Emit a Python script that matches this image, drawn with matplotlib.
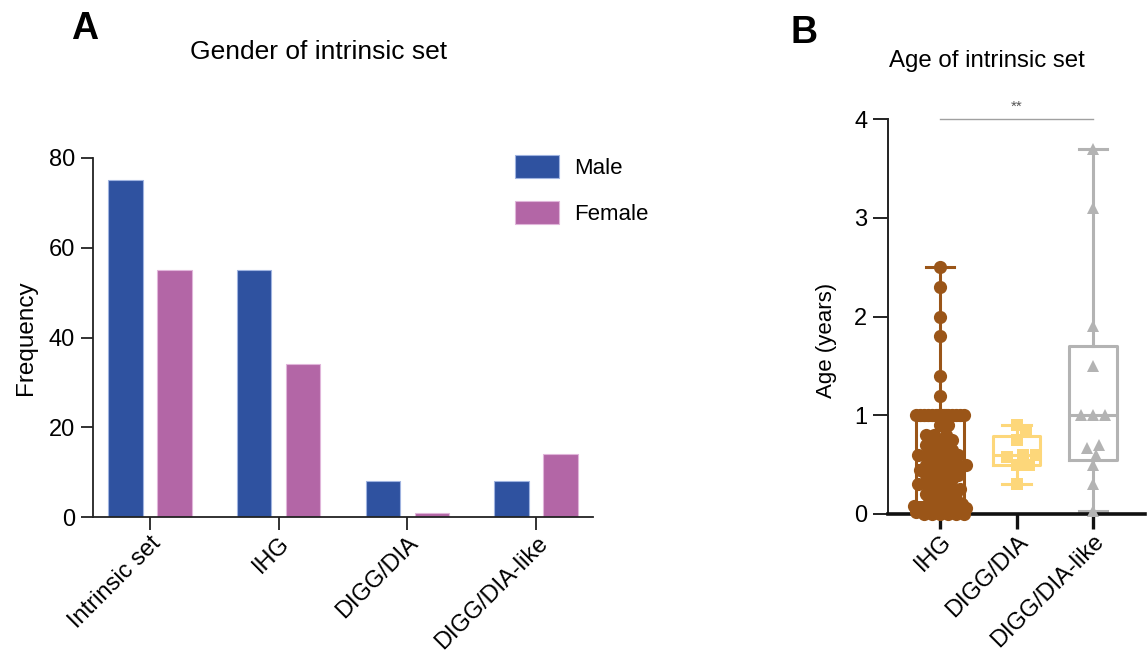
import numpy as np
import matplotlib
matplotlib.use("Agg")
import matplotlib.pyplot as plt

plt.rcParams['font.family'] = ['Liberation Sans', 'DejaVu Sans']

# panel A data
groups = ['Intrinsic set', 'IHG', 'DIGG/DIA', 'DIGG/DIA-like']
male = [75, 55, 8, 8]
female = [55, 34, 1, 14]

# panel B data (age, years)
age_groups = ['IHG', 'DIGG/DIA', 'DIGG/DIA-like']
ihg = ([0.0] * 6 + [0.02] * 3 + [0.04] * 3 + [0.06] * 3 + [0.08] * 4 + [0.1] * 3
       + [0.15] * 2 + [0.2] * 3 + [0.25] * 3 + [0.3] * 4 + [0.35] * 2 + [0.4] * 4
       + [0.45] * 3 + [0.5] * 5 + [0.55] * 2 + [0.6] * 5 + [0.65] * 2 + [0.7] * 3
       + [0.75] * 2 + [0.8] * 3 + [0.9] * 2 + [1.0] * 16
       + [1.2, 1.4, 1.8, 2.0, 2.3, 2.5])
digg = [0.3, 0.5, 0.5, 0.58, 0.6, 0.6, 0.75, 0.83, 0.9]
digg_like = [0.03, 0.3, 0.5, 0.6, 0.67, 0.7, 1.0, 1.0, 1.0, 1.5, 1.9, 3.1, 3.7]

male_c = '#2f52a0'
female_c = '#b366a6'
age_colors = ['#9a5518', '#fdd77a', '#b3b3b3']
age_markers = ['o', 's', '^']
age_ms = [9.5, 8.5, 8]
age_spread = [0.5, 0.9, 0.9]

W, H = 1148, 661
fig = plt.figure(figsize=(W / 100, H / 100), dpi=100)

# ---------------- panel A ----------------
axA = fig.add_axes([93 / W, 1 - 517 / H, 500 / W, 359 / H])
x = np.arange(len(groups))
axA.bar(x - 0.19, male, width=0.27, color=male_c, edgecolor='#9fb3e0', linewidth=0.8, label='Male')
axA.bar(x + 0.19, female, width=0.27, color=female_c, edgecolor='#e0b5da', linewidth=0.8, label='Female')
axA.set_xlim(-0.44, 3.44)
axA.set_ylim(0, 80)
axA.set_yticks([0, 20, 40, 60, 80])
axA.set_xticks(x)
axA.set_xticklabels(groups, rotation=45, ha='right', va='top', rotation_mode='anchor')
axA.tick_params(axis='both', labelsize=17, length=9, width=1.3, color='#222222')
axA.tick_params(axis='x', pad=2)
axA.tick_params(axis='y', pad=4)
for s in ['top', 'right']:
    axA.spines[s].set_visible(False)
for s in ['left', 'bottom']:
    axA.spines[s].set_linewidth(1.3)
    axA.spines[s].set_color('#222222')
axA.set_ylabel('Frequency', fontsize=17.5, labelpad=8)
axA.legend(loc='upper left', bbox_to_anchor=(0.845, 1.008), frameon=False, fontsize=16,
           handlelength=1.95, handleheight=1.2, labelspacing=1.0, handletextpad=0.7,
           borderpad=0, borderaxespad=0)

fig.text(71 / W, 1 - 11 / H, 'A', fontsize=27, fontweight='bold', va='top', ha='left')
fig.text(319 / W, 1 - 59 / H, 'Gender of intrinsic set', fontsize=19, ha='center', va='baseline')

# ---------------- panel B ----------------
axB = fig.add_axes([888 / W, 1 - 514 / H, 257 / W, 395 / H])
xlo, xhi = -0.68, 2.68
axB.set_xlim(xlo, xhi)
axB.set_ylim(0, 4)
px_x = 257 / (xhi - xlo)
px_y = 395 / 4.0


def swarm(vals, center, diam, maxw):
    placed = []
    xs = []
    step = diam * 0.3
    cands = [0.0]
    k = 1
    while k * step <= maxw:
        cands += [k * step, -k * step]
        k += 1
    for v in vals:
        y = v * px_y
        best = None
        for c in cands:
            if all((c - a) ** 2 + (y - b) ** 2 >= diam ** 2 for a, b in placed):
                best = c
                break
        if best is None:
            best = max(cands, key=lambda c: min((c - a) ** 2 + (y - b) ** 2 for a, b in placed))
        placed.append((best, y))
        xs.append(center + best / px_x)
    return xs


age_data = [ihg, digg, digg_like]
for i, vals in enumerate(age_data):
    vals = sorted(vals)
    q1, med, q3 = np.percentile(vals, [25, 50, 75], method='weibull')
    stats = [dict(med=med, q1=q1, q3=q3, whislo=min(vals), whishi=max(vals), fliers=[])]
    col = age_colors[i]
    lp = dict(color=col, linewidth=2.2)
    axB.bxp(stats, positions=[i], widths=0.62, capwidths=0.37, showfliers=False,
            boxprops=lp, whiskerprops=lp, capprops=lp, medianprops=lp)
    diam = age_ms[i] * 1.389 * age_spread[i]
    xs = swarm(vals, i, diam, 0.36 * px_x)
    axB.plot(xs, vals, linestyle='none', marker=age_markers[i], ms=age_ms[i],
             color=col, markeredgewidth=0, clip_on=False, zorder=3)

axB.set_xticks(range(3))
axB.set_xticklabels(age_groups, rotation=45, ha='right', va='top', rotation_mode='anchor')
axB.set_yticks([0, 1, 2, 3, 4])
axB.tick_params(axis='y', labelsize=17, length=11, width=1.4, color='#222222', pad=4)
axB.tick_params(axis='x', labelsize=17, length=11, width=2.4, color='#111111', pad=1)
for s in ['top', 'right']:
    axB.spines[s].set_visible(False)
axB.spines['left'].set_linewidth(1.4)
axB.spines['left'].set_color('#222222')
axB.spines['bottom'].set_linewidth(2.6)
axB.spines['bottom'].set_color('#111111')
axB.set_ylabel('Age (years)', fontsize=16)
axB.yaxis.set_label_coords(-0.2, 0.44)

# significance bar
axB.plot([0, 2], [4.0, 4.0], color='#a0a0a0', linewidth=1.0, clip_on=False)
axB.text(1, 4.05, '**', ha='center', va='bottom', fontsize=11, color='#555555')

fig.text(791 / W, 1 - 15 / H, 'B', fontsize=27, fontweight='bold', va='top', ha='left')
fig.text(987 / W, 1 - 67 / H, 'Age of intrinsic set', fontsize=17.3, ha='center', va='baseline')

fig.savefig('out.png', dpi=100)
